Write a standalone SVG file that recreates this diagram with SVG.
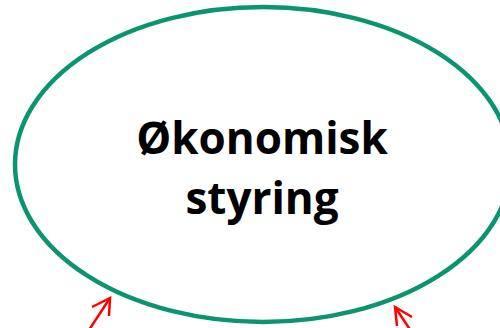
<svg xmlns="http://www.w3.org/2000/svg" width="500" height="328" viewBox="0 0 500 328">
<style>
.node{fill:#fff;stroke:#0a9470;stroke-width:4.5}
.lbl{font-family:"Open Sans","Liberation Sans",sans-serif;font-weight:bold;font-size:44px;fill:#000;text-anchor:middle}
.arr{fill:none;stroke:#ff0000;stroke-width:2.5;stroke-linecap:butt;stroke-linejoin:miter}
</style>
<rect width="500" height="328" fill="#fff"/>
<g id="node-okonomisk-styring">
<ellipse class="node" cx="263" cy="164.5" rx="248" ry="157.5"/>
<text class="lbl" x="262" y="154">Økonomisk</text>
<text class="lbl" x="262" y="214">styring</text>
</g>
<g id="connectors">
<path class="arr" d="M89,330 L110,298"/>
<path class="arr" d="M92,307 L110,298 L109,316"/>
<path class="arr" d="M411,331 L395,307"/>
<path class="arr" d="M412,317 L395,307 L397,326"/>
</g>
</svg>
